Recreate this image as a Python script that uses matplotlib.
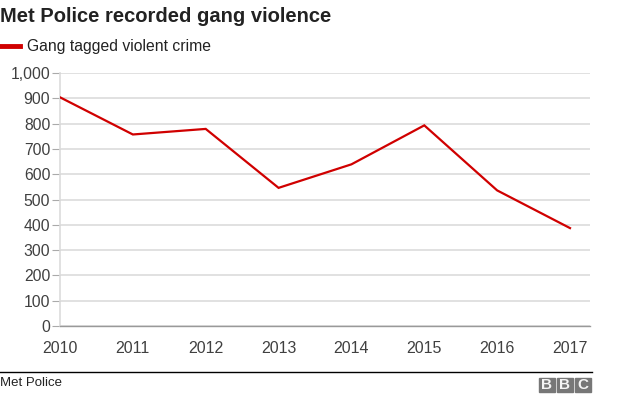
import matplotlib
matplotlib.use("Agg")
import matplotlib.pyplot as plt
from matplotlib.patches import Rectangle

plt.rcParams['font.family'] = ['Liberation Sans', 'DejaVu Sans']

years = [2010, 2011, 2012, 2013, 2014, 2015, 2016, 2017]
crimes = [904, 757, 779, 546, 639, 793, 536, 387]
yticks = list(range(0, 1001, 100))

W, H = 624, 395
fig = plt.figure(figsize=(W / 100, H / 100), dpi=100)
ax = fig.add_axes([60 / W, (H - 326) / H, 530 / W, 253 / H])

ax.plot(years, crimes, color='#d00000', lw=1.6, zorder=3, solid_joinstyle='miter')

ax.set_xlim(2010, 2017 + 20 / (510 / 7))
ax.set_ylim(0, 1000)
ax.set_yticks(yticks)
ax.set_yticklabels([f'{v:,}' for v in yticks])
ax.set_xticks(years)
ax.grid(axis='y', color='#dcdcdc', lw=1.2)
ax.set_axisbelow(True)

for s in ['top', 'right']:
    ax.spines[s].set_visible(False)
ax.spines['left'].set_color('#dcdcdc')
ax.spines['left'].set_linewidth(1.2)
ax.spines['bottom'].set_color('#999999')
ax.spines['bottom'].set_linewidth(1)
ax.tick_params(axis='y', length=6, color='#aaaaaa', labelsize=11.3, labelcolor='#404040', pad=1)
ax.tick_params(axis='x', length=0, labelsize=11.5, labelcolor='#404040', pad=11)

# title and legend
fig.text(0, 1 - 17 / H, 'Met Police recorded gang violence', fontsize=14.5,
         fontweight='bold', color='#222222', va='center', ha='left')
fig.add_artist(plt.Line2D([0, 20 / W], [1 - 46 / H] * 2, color='#d00000', lw=3.5))
fig.text(27 / W, 1 - 46 / H, 'Gang tagged violent crime', fontsize=11.3,
         color='#222222', va='center', ha='left')

# footer
fig.add_artist(plt.Line2D([0, 592 / W], [1 - 371.5 / H] * 2, color='black', lw=1))
fig.text(0, 1 - 383 / H, 'Met Police', fontsize=9.5, color='#222222',
         va='center', ha='left')
for i, ch in enumerate('BBC'):
    x0 = 539 + i * 18
    fig.patches.append(Rectangle((x0 / W, 1 - 392 / H), 16 / W, 14 / H,
                                 transform=fig.transFigure, color='#777777'))
    fig.text((x0 + 8) / W, 1 - 385 / H, ch, fontsize=11, fontweight='bold',
             color='#f4f4f4', ha='center', va='center')

fig.savefig('out.png', dpi=100)
